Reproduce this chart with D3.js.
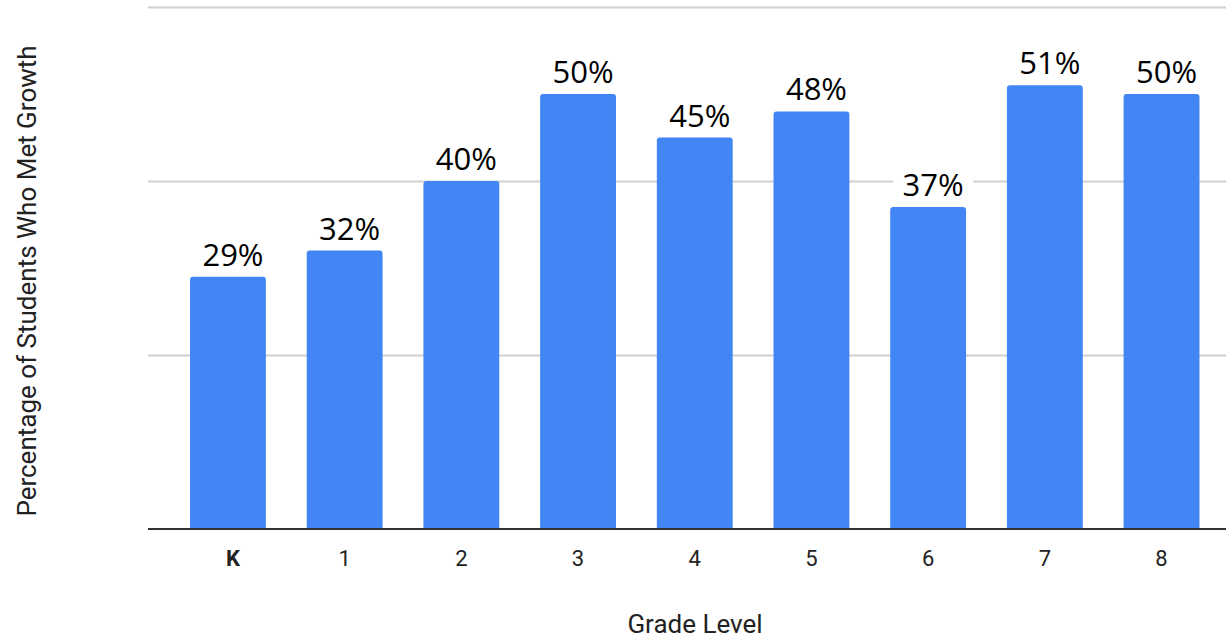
<!DOCTYPE html>
<html>
<head>
<meta charset="utf-8">
<script src="https://cdn.jsdelivr.net/npm/d3@7"></script>
<style>
  html, body { margin: 0; padding: 0; background: #fff; }
  svg { display: block; }
  .grid line { stroke: #d0d0d0; stroke-width: 2px; }
  .grid .domain { display: none; }
  .x.axis .domain { stroke: #333; stroke-width: 2px; }
  .x.axis .tick line { display: none; }
  .x.axis text { font-family: Roboto, sans-serif; font-size: 22px; fill: #222; }
  .value-label { font-family: "Open Sans", sans-serif; font-size: 31px; fill: #000; }
  .axis-title { font-family: Roboto, sans-serif; font-size: 26px; fill: #222; }
</style>
</head>
<body>
<div id="chart"></div>
<script>
  var grades = ['K', '1', '2', '3', '4', '5', '6', '7', '8'];
  var metGrowth = [0.29, 0.32, 0.40, 0.50, 0.45, 0.48, 0.37, 0.51, 0.50];
  var gridTicks = [0, 0.2, 0.4, 0.6];

  var WIDTH = 1226;
  var HEIGHT = 638;
  var PLOT = { LEFT: 148, RIGHT: 1226, TOP: 7, BOTTOM: 529 };
  var BAR_COLOR = '#4285f4';

  var data = grades.map(function(g, i) {
    return { grade: g, value: metGrowth[i] };
  });

  var x = d3.scaleBand()
    .domain(grades)
    .range([169.6, 1219.9])
    .paddingInner(0.35)
    .paddingOuter(0.175);

  var y = d3.scaleLinear()
    .domain([0, 0.6])
    .range([PLOT.BOTTOM, PLOT.TOP]);

  var svg = d3.select('#chart').append('svg')
    .attr('width', WIDTH)
    .attr('height', HEIGHT);

  // gridlines
  svg.append('g')
    .attr('class', 'grid')
    .attr('transform', 'translate(' + PLOT.LEFT + ',0)')
    .call(d3.axisLeft(y)
      .tickValues(gridTicks.slice(1))
      .tickSize(-(PLOT.RIGHT - PLOT.LEFT))
      .tickFormat(''));

  // bars with slightly rounded top corners
  function barPath(d) {
    var x0 = x(d.grade), w = x.bandwidth();
    var top = y(d.value), bottom = y(0), r = 3;
    return 'M' + x0 + ',' + bottom +
      'V' + (top + r) +
      'Q' + x0 + ',' + top + ' ' + (x0 + r) + ',' + top +
      'H' + (x0 + w - r) +
      'Q' + (x0 + w) + ',' + top + ' ' + (x0 + w) + ',' + (top + r) +
      'V' + bottom + 'Z';
  }

  svg.selectAll('.bar')
    .data(data)
    .enter().append('path')
    .attr('class', 'bar')
    .attr('d', barPath)
    .style('fill', BAR_COLOR);

  // value labels with white backing
  var labels = svg.selectAll('.label')
    .data(data)
    .enter().append('g')
    .attr('class', 'label')
    .attr('transform', function(d) {
      return 'translate(' + (x(d.grade) + x.bandwidth() / 2 + 5) + ',' + (y(d.value) - 11) + ')';
    });

  labels.append('rect')
    .attr('x', -40)
    .attr('y', -30)
    .attr('width', 80)
    .attr('height', 34)
    .style('fill', '#fff');

  labels.append('text')
    .attr('class', 'value-label')
    .attr('text-anchor', 'middle')
    .text(function(d) { return d3.format('.0%')(d.value); });

  // x axis
  var xAxisG = svg.append('g')
    .attr('class', 'x axis')
    .attr('transform', 'translate(0,' + PLOT.BOTTOM + ')')
    .call(d3.axisBottom(x).tickSizeOuter(0).tickSize(0).tickPadding(21));

  xAxisG.select('.domain')
    .attr('d', 'M' + PLOT.LEFT + ',0H' + PLOT.RIGHT);

  xAxisG.selectAll('.tick text')
    .style('font-weight', function(d) { return d === 'K' ? 'bold' : 'normal'; })
    .attr('dx', function(d) { return d === 'K' ? 5 : 0; });

  // axis titles
  svg.append('text')
    .attr('class', 'axis-title')
    .attr('text-anchor', 'middle')
    .attr('x', 695)
    .attr('y', 633)
    .text('Grade Level');

  svg.append('text')
    .attr('class', 'axis-title')
    .attr('text-anchor', 'middle')
    .attr('transform', 'translate(36,281) rotate(-90)')
    .text('Percentage of Students Who Met Growth');
</script>
</body>
</html>
